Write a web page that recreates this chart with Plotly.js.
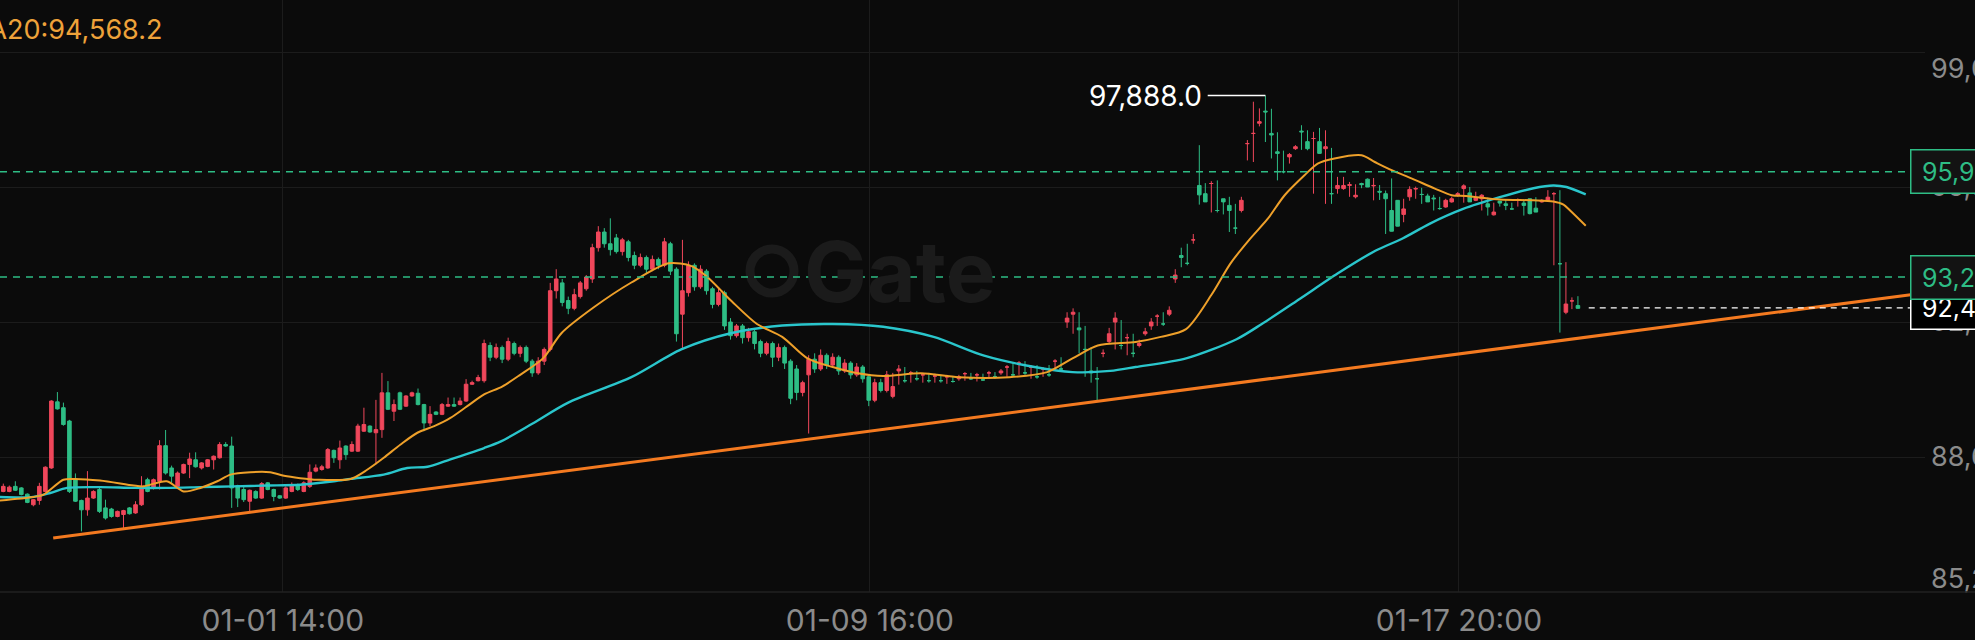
<!DOCTYPE html>
<html><head><meta charset="utf-8">
<script src="https://cdn.plot.ly/plotly-3.0.1.min.js"></script>
<style>html,body{margin:0;padding:0;background:#0b0b0b;overflow:hidden}#chart{width:1975px;height:640px}</style>
</head><body><div id="chart"></div>
<script>
// ---- data ----
const opens = [87.77,87.77,87.90,87.86,87.70,87.43,87.54,87.77,88.37,90.06,89.91,89.57,88.09,87.54,87.30,87.60,87.82,87.35,87.32,87.13,87.18,87.35,87.22,87.43,88.07,87.86,88.03,88.94,88.37,87.90,88.24,88.46,88.58,88.37,88.41,88.58,88.63,88.97,88.93,87.92,87.82,87.52,87.77,87.60,87.99,87.82,87.66,87.60,87.77,87.94,87.77,87.90,88.29,88.33,88.37,88.82,88.58,88.93,88.80,88.80,89.31,89.44,89.27,89.35,90.29,89.82,90.29,89.95,90.21,90.28,89.99,89.52,89.80,89.74,89.95,89.99,89.99,90.08,90.51,90.60,
90.60,91.50,91.20,91.45,91.15,91.55,91.30,91.45,91.10,90.80,91.10,91.40,92.90,93.10,92.65,92.45,92.75,92.95,93.20,94.00,94.40,94.10,94.25,93.90,94.15,93.80,93.55,93.75,93.45,93.70,93.55,94.10,93.45,92.30,92.85,93.55,93.00,93.40,92.95,92.55,92.85,92.10,91.75,92.00,91.70,91.85,91.60,91.30,91.55,91.20,91.45,91.10,90.90,90.30,90.75,91.15,90.90,91.25,91.00,91.20,90.85,91.05,90.75,90.95,90.70,90.10,90.55,90.35,90.20,90.85,90.60,90.80,90.65,90.75,90.60,90.72,90.60,90.70,90.58,90.65,90.78,90.65,90.75,90.62,90.80,90.70,90.80,90.95,90.75,91.05,90.80,90.95,90.70,90.90,90.75,91.10,90.90,92.10,92.30,91.95,91.40,90.85,90.65,91.30,91.60,92.10,91.50,91.70,91.30,91.50,91.80,92.00,92.25,92.05,92.30,93.20,93.80,93.60,
94.20,95.59,95.38,95.64,94.95,95.25,95.08,94.50,94.95,96.66,96.92,97.18,97.49,96.92,96.45,95.94,96.32,96.53,96.98,96.71,96.79,96.71,96.53,95.38,95.51,95.51,95.59,95.30,95.64,95.75,95.58,95.44,95.38,94.95,95.21,94.85,95.30,95.50,95.36,95.32,95.27,95.00,95.04,95.17,95.34,95.51,95.40,95.21,95.25,95.12,94.84,95.19,95.12,94.99,95.21,95.14,95.25,95.01,95.17,95.21,95.38,93.59,92.35,92.64,92.52];
const highs = [87.97,87.92,88.03,87.88,87.72,87.58,87.99,88.41,90.10,90.31,90.04,89.60,88.23,87.56,88.29,87.80,87.90,87.56,87.35,87.28,87.30,87.37,87.52,88.16,88.12,88.10,89.08,89.34,88.43,88.28,88.48,88.76,88.77,88.52,88.60,88.69,89.03,89.03,89.17,87.94,87.90,87.82,87.80,88.01,88.01,87.84,87.68,87.90,88.00,87.97,88.03,88.46,88.46,88.45,88.88,88.84,89.07,88.95,89.05,89.50,89.91,89.46,90.11,90.80,90.59,90.12,90.32,90.23,90.32,90.40,90.01,89.95,89.82,90.03,90.17,90.17,90.17,90.64,90.60,90.75,
91.65,91.58,91.55,91.50,91.70,91.60,91.50,91.50,91.15,91.20,91.45,93.10,93.45,93.20,92.75,92.95,93.15,93.30,94.10,94.55,94.50,94.75,94.35,94.25,94.20,93.90,93.85,93.80,93.80,93.75,94.25,94.15,93.50,94.20,93.65,93.60,93.55,93.45,93.00,92.95,92.90,92.20,92.05,92.05,91.95,91.90,91.65,91.60,91.60,91.55,91.50,91.15,91.00,90.60,91.25,91.30,91.40,91.30,91.30,91.25,91.15,91.10,91.05,91.00,90.75,90.65,90.65,90.85,90.80,91.00,90.95,90.85,90.85,90.80,90.80,90.78,90.75,90.75,90.72,90.75,90.82,90.80,90.80,90.78,90.85,90.82,90.90,91.00,91.05,91.10,91.10,91.00,91.00,90.95,91.00,91.15,91.20,92.35,92.45,92.35,92.00,91.45,90.95,91.40,91.95,92.35,92.15,91.80,91.80,91.65,91.95,92.20,92.30,92.35,92.50,93.45,94.00,94.10,94.35,
96.62,95.65,95.70,95.72,95.25,95.30,95.12,95.30,96.75,97.73,97.56,97.888,97.55,96.95,96.48,96.42,96.62,97.13,97.00,96.96,97.06,97.00,96.55,95.81,95.81,95.68,95.62,95.66,95.77,95.78,95.60,95.46,95.77,95.10,95.25,95.57,95.56,95.53,95.38,95.35,95.30,95.25,95.30,95.42,95.62,95.55,95.43,95.37,95.28,95.15,95.18,95.22,95.15,95.26,95.24,95.17,95.29,95.24,95.47,95.42,95.47,93.63,92.73,92.76,92.52];
const lows = [87.75,87.75,87.78,87.67,87.47,87.39,87.43,87.75,88.35,89.86,89.45,87.73,87.50,86.75,87.15,87.58,87.22,87.05,87.10,87.11,86.79,87.18,87.20,87.40,87.75,87.82,87.82,88.20,87.99,87.88,88.22,88.11,88.38,88.33,88.39,88.33,88.61,88.91,87.35,87.37,87.50,87.26,87.58,87.58,87.80,87.52,87.58,87.58,87.75,87.78,87.75,87.86,88.26,88.30,88.35,88.50,88.35,88.58,88.78,88.78,89.29,89.27,88.46,89.14,89.85,89.57,89.85,89.93,90.19,89.97,89.31,89.44,89.72,89.72,89.93,89.93,89.97,90.06,90.49,90.58,
90.55,91.10,91.15,91.05,91.10,91.25,91.20,91.05,90.70,90.75,91.00,91.35,92.70,92.50,92.30,92.40,92.70,92.90,93.10,93.90,94.00,93.80,93.85,93.80,93.65,93.45,93.50,93.35,93.40,93.45,93.50,93.30,91.60,91.40,92.75,92.90,92.95,92.80,92.45,92.50,91.90,91.65,91.70,91.55,91.60,91.40,91.20,91.25,90.95,91.10,90.90,90.00,90.10,90.20,89.25,90.80,90.85,90.90,90.95,90.75,90.80,90.65,90.70,90.55,89.95,90.05,90.30,90.30,90.15,90.50,90.55,90.55,90.60,90.55,90.55,90.55,90.55,90.52,90.55,90.60,90.60,90.62,90.58,90.60,90.65,90.65,90.75,90.70,90.70,90.75,90.75,90.65,90.65,90.70,90.70,90.85,90.85,91.95,91.80,91.30,90.70,90.55,90.10,91.20,91.55,91.40,91.40,91.25,91.20,91.45,91.75,91.90,92.00,92.00,92.25,93.10,93.50,93.55,
94.10,95.10,95.30,94.90,94.90,94.85,94.40,94.35,94.90,96.23,96.19,97.10,96.70,96.28,95.72,95.90,96.15,96.50,96.50,96.49,95.38,96.49,95.12,95.12,95.38,95.48,95.30,95.26,95.52,95.56,95.21,95.22,94.35,94.50,94.95,94.65,95.20,95.25,95.12,95.22,94.95,94.97,95.02,95.15,95.30,95.15,95.24,95.19,94.95,94.82,94.82,95.05,94.96,94.97,95.05,94.82,94.85,94.99,95.15,95.19,93.55,91.83,92.30,92.43,92.45];
const closes = [87.90,87.88,87.80,87.69,87.49,87.56,87.90,88.39,90.08,89.88,89.48,87.77,87.52,87.30,87.60,87.77,87.26,87.09,87.13,87.26,87.28,87.20,87.43,87.90,87.77,88.07,88.94,88.24,88.16,88.24,88.46,88.60,88.40,88.50,88.58,88.67,88.97,88.93,87.86,87.60,87.56,87.80,87.60,87.97,87.82,87.64,87.60,87.86,87.94,87.82,87.99,88.26,88.37,88.40,88.84,88.63,88.88,88.71,88.97,89.44,89.48,89.29,89.35,90.29,89.87,89.99,89.87,90.21,90.29,89.99,89.52,89.74,89.74,89.99,89.99,89.95,90.08,90.51,90.55,90.68,
91.55,91.20,91.45,91.15,91.60,91.30,91.45,91.10,90.80,91.10,91.40,92.90,93.20,92.60,92.45,92.80,93.10,93.25,94.00,94.40,94.10,93.95,93.90,94.20,93.75,93.55,93.75,93.45,93.70,93.55,94.15,93.40,91.80,92.90,93.55,93.00,93.45,92.90,92.55,92.85,92.00,91.75,92.00,91.70,91.85,91.55,91.30,91.55,91.20,91.45,91.05,90.15,90.30,90.55,91.15,90.90,91.25,91.00,91.20,90.85,91.05,90.75,90.95,90.65,90.10,90.55,90.35,90.75,90.45,90.90,90.60,90.80,90.65,90.75,90.60,90.72,90.60,90.70,90.58,90.70,90.78,90.65,90.75,90.62,90.80,90.70,90.85,90.95,90.75,91.05,90.80,90.95,90.70,90.90,90.75,91.10,90.90,92.20,92.35,91.90,91.40,90.80,90.65,91.30,91.80,92.20,91.50,91.70,91.30,91.55,91.85,92.10,92.25,92.05,92.40,93.30,93.75,93.60,94.20,
95.35,95.17,95.64,94.95,95.17,94.95,94.50,95.21,96.66,96.92,97.22,97.47,96.88,96.41,95.94,96.38,96.58,96.96,96.53,96.79,96.41,96.58,95.38,95.59,95.59,95.61,95.34,95.61,95.55,95.59,95.42,95.25,94.42,94.55,94.99,95.49,95.51,95.36,95.17,95.25,95.00,95.21,95.25,95.38,95.58,95.17,95.27,95.34,95.04,94.91,95.14,95.08,94.99,95.23,95.08,94.87,94.91,95.21,95.29,95.38,93.59,92.56,92.64,92.45,92.46];

const ma20X = [-0.6,5,6.7,10,11.7,16.1,21.7,23.3,27.2,30,32.8,35.6,37.8,41.1,44.4,46.7,49.4,52.2,57.8,60.6,63.3,66.1,68.9,71.7,74.4,77.2,80,83,86,89.8,92.9,98.2,104.5,110.7,114.5,117,121.2,125.4,129.6,133.8,138,142.2,146.4,152.7,159,167.4,173.7,177.9,182.1,188.4,192.6,196.8,201,204.2,207.3,210.4,213.2,216.5,218.7,221.5,226,228.2,231,234.3,238.2,241,243.4,249,254.6,257.9,259.6,260.7,263.3];
const ma20Y = [87.54,87.63,87.69,88.07,88.09,88.05,87.92,87.90,88.03,87.77,87.86,88.03,88.20,88.26,88.26,88.17,88.11,88.07,88.09,88.33,88.63,88.97,89.27,89.44,89.65,89.95,90.25,90.45,90.75,91.17,91.82,92.47,93.11,93.60,93.53,93.27,92.63,92.05,91.72,91.17,90.95,90.79,90.72,90.79,90.69,90.69,90.82,91.17,91.50,91.59,91.72,91.92,92.79,93.60,94.20,94.74,95.34,95.85,96.15,96.28,96.36,96.19,95.98,95.77,95.51,95.34,95.32,95.23,95.21,95.18,95.10,94.95,94.56];
const ma60X = [-0.6,5,7.8,10.6,16.1,21.7,27.2,32.8,38.3,43.9,49.4,55,57.8,63.3,67.2,70.6,74.4,80,82.8,88,94,104.5,112.8,121.2,129.6,138,146.4,154.8,163.2,171.6,177.9,184.2,188.4,196.8,205.2,209.4,215.7,222,228.3,232.9,237.3,242.9,249,254.6,257.9,260.1,263.3];
const ma60Y = [87.63,87.63,87.73,87.86,87.88,87.86,87.86,87.88,87.90,87.92,87.94,88.03,88.09,88.20,88.37,88.40,88.59,88.88,89.05,89.50,90.04,90.69,91.40,91.82,92.01,92.05,91.98,91.72,91.24,90.95,90.82,90.85,90.95,91.17,91.66,92.05,92.69,93.34,93.92,94.24,94.61,94.99,95.29,95.52,95.59,95.55,95.36];

const trendX = [8.3, 318];
const trendY = [86.58, 92.81];
const levelPrices = [95.94, 93.25];
const levelLabels = ['95,940.0', '93,250.0'];
const lastLabel = '92,460.0';
const yTickVals = [85.2, 88.65, 92.1, 95.55, 99.0];
const yTickText = ['85,200.0', '88,650.0', '92,100.0', '95,550.0', '99,000.0'];
const xTickVals = [46.5, 144.2, 242.2];
const xTickText = ['01-01 14:00', '01-09 16:00', '01-17 20:00'];
const maLabel = 'MA20:94,568.2';
const watermark = 'Gate';

// ---- styling ----
const W = 1975, H = 640, MR = 50, MB = 48;
const PW = W - MR, PH = H - MB;
const X_RANGE = [-0.55, -0.55 + PW / 6.01];
const Y_RANGE = [85.2, 100.33];
const PX_PER_UNIT = PH / (Y_RANGE[1] - Y_RANGE[0]);
const LABEL_SHIFT_PX = [13, 0, 0, 0, -17];   // edge labels are kept inside the pane
const yLabelPos = yTickVals.map((v, k) => v + LABEL_SHIFT_PX[k] / PX_PER_UNIT);
const UP = '#f0475b', DOWN = '#2ebd85';
const FONT = 'Inter, "Noto Sans", sans-serif';
const BOX_X = 1910 / PW;

const idx = opens.map((_, i) => i);
const last = closes.length - 1;
let peakI = 0;
highs.forEach((h, i) => { if (h > highs[peakI]) peakI = i; });
const fmt = v => (v * 1000).toLocaleString('en-US', {minimumFractionDigits: 1, maximumFractionDigits: 1});

const traces = [
  {type: 'candlestick', x: idx, open: opens, high: highs, low: lows, close: closes,
   increasing: {line: {color: UP, width: 1}, fillcolor: UP},
   decreasing: {line: {color: DOWN, width: 1}, fillcolor: DOWN},
   whiskerwidth: 0, hoverinfo: 'skip', showlegend: false},
  {type: 'scatter', mode: 'lines', x: ma60X, y: ma60Y, line: {color: '#2ac6cc', width: 2.4, shape: 'spline', smoothing: 0.8}, hoverinfo: 'skip', showlegend: false},
  {type: 'scatter', mode: 'lines', x: ma20X, y: ma20Y, line: {color: '#eea02a', width: 2, shape: 'spline', smoothing: 0.8}, hoverinfo: 'skip', showlegend: false},
  {type: 'scatter', mode: 'lines', x: [], y: [], yaxis: 'y2', hoverinfo: 'skip', showlegend: false}
];

const shapes = [
  {type: 'line', xref: 'x', yref: 'y', x0: trendX[0], y0: trendY[0], x1: trendX[1], y1: trendY[1], line: {color: '#f47a20', width: 3}, layer: 'above'},
  {type: 'line', xref: 'x', yref: 'y', x0: peakI - 9.6, x1: peakI, y0: highs[peakI], y1: highs[peakI], line: {color: '#ffffff', width: 1.5}},
  {type: 'line', xref: 'x', yref: 'y', x0: last + 0.8, x1: X_RANGE[1] - 2.5, y0: closes[last], y1: closes[last], line: {color: '#ffffff', width: 1.3, dash: '6px,5px'}},
  {type: 'line', xref: 'paper', yref: 'paper', x0: 0, x1: 1.05, y0: 0, y1: 0, line: {color: '#222222', width: 1.5}},
  {type: 'circle', xref: 'paper', yref: 'paper', x0: 750 / PW, x1: 794 / PW, y0: 1 - 293 / PH, y1: 1 - 249 / PH, line: {color: '#1b1b1b', width: 9}, layer: 'below'}
];
levelPrices.forEach(p => shapes.push({type: 'line', xref: 'paper', yref: 'y', x0: 0, x1: BOX_X, y0: p, y1: p, line: {color: DOWN, width: 1.3, dash: '7px,6px'}}));

const boxFont = 25;
const annotations = [
  {xref: 'paper', yref: 'paper', x: 164 / PW, y: 1 - 29 / PH, xanchor: 'right', yanchor: 'middle', text: maLabel, showarrow: false, font: {family: FONT, size: 27, color: '#eea23a'}},
  {xref: 'x', yref: 'y', x: peakI - 10.2, y: highs[peakI], xanchor: 'right', yanchor: 'middle', text: fmt(highs[peakI]), showarrow: false, font: {family: FONT, size: 28, color: '#ffffff'}},
  {xref: 'paper', yref: 'paper', x: 900 / PW, y: 1 - 271 / PH, xanchor: 'center', yanchor: 'middle', text: '<b>' + watermark + '</b>', showarrow: false, font: {family: FONT, size: 84, color: '#1b1b1b'}},
  {xref: 'paper', yref: 'y', x: BOX_X, y: closes[last], xanchor: 'left', yanchor: 'middle', text: '\u2009' + lastLabel, showarrow: false, font: {family: FONT, size: boxFont, color: '#ffffff'}, bgcolor: '#000000', bordercolor: '#ffffff', borderwidth: 1.5, borderpad: 6}
];
levelPrices.forEach((p, k) => annotations.push({xref: 'paper', yref: 'y', x: BOX_X, y: p, xanchor: 'left', yanchor: 'middle', text: '\u2009' + levelLabels[k], showarrow: false, font: {family: FONT, size: boxFont, color: DOWN}, bgcolor: '#131313', bordercolor: DOWN, borderwidth: 1.5, borderpad: 6}));

const layout = {
  width: W, height: H,
  margin: {l: 0, r: MR, t: 0, b: MB, pad: 0, autoexpand: false},
  paper_bgcolor: '#0b0b0b', plot_bgcolor: '#0b0b0b',
  showlegend: false,
  boxgap: 0.3, boxgroupgap: 0.15,
  font: {family: FONT, color: '#8b8b8b'},
  xaxis: {range: X_RANGE, tickmode: 'array', tickvals: xTickVals, ticktext: xTickText, automargin: false,
          showgrid: true, gridcolor: '#1c1c1c', gridwidth: 1, zeroline: false, showline: false,
          ticks: '', ticklabelstandoff: 8, tickfont: {family: FONT, size: 30, color: '#8b8b8b'},
          rangeslider: {visible: false}, fixedrange: true},
  yaxis: {range: Y_RANGE, side: 'right', tickmode: 'array', tickvals: yTickVals, showticklabels: false, automargin: false,
          showgrid: true, gridcolor: '#1c1c1c', gridwidth: 1, zeroline: false, showline: false, ticks: '', fixedrange: true},
  yaxis2: {range: Y_RANGE, overlaying: 'y', side: 'right', tickmode: 'array', tickvals: yLabelPos, ticktext: yTickText, automargin: false,
          showgrid: false, zeroline: false, showline: false, ticks: '', ticklabelstandoff: 5,
          tickfont: {family: FONT, size: 27, color: '#8b8b8b'}, fixedrange: true},
  shapes: shapes,
  annotations: annotations
};

Plotly.newPlot('chart', traces, layout, {displayModeBar: false, staticPlot: true});
</script></body></html>
